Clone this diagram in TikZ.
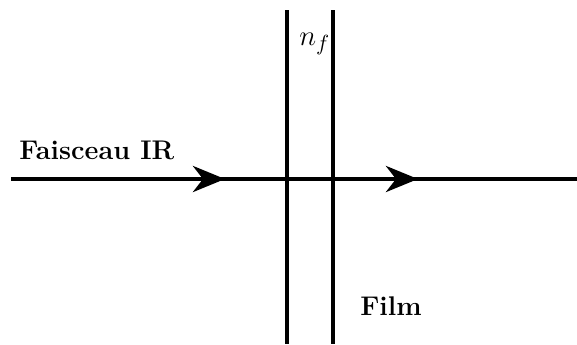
\documentclass[tikz,border=0pt]{standalone}
\usetikzlibrary{arrows.meta}
\begin{document}
\begin{tikzpicture}[x=0.5pt, y=-0.5pt,
    every node/.style={font=\fontsize{13.5}{16}\selectfont, inner sep=0pt},
    trait/.style={line width=2.3pt},
    fleche/.style={trait, -{Stealth[length=16pt, width=13pt, inset=5pt]}}]
    \useasboundingbox (0,0) rectangle (577,344);

    % Film (deux interfaces)
    \coordinate (g haut) at (287,10);
    \coordinate (g bas) at (287,344);
    \coordinate (d haut) at (333,10);
    \coordinate (d bas) at (333,344);
    \draw[trait] (g haut) -- (g bas);
    \draw[trait] (d haut) -- (d bas);
    \node[anchor=base west, font=\fontsize{15}{18}\selectfont] (indice) at (299,45) {$n_f$};
    \node[anchor=base west] (film) at (360,315) {\textbf{Film}};

    % Faisceau
    \coordinate (depart) at (11,179);
    \coordinate (arrivee) at (577,179);
    \coordinate (pointe1) at (225,179);
    \coordinate (pointe2) at (418,179);
    \draw[trait] (depart) -- (arrivee);
    \draw[fleche] ([xshift=-40]pointe1) -- (pointe1);
    \draw[fleche] ([xshift=-40]pointe2) -- (pointe2);
    \node[anchor=base west] (faisceau) at (19,159) {\textbf{Faisceau IR}};
\end{tikzpicture}
\end{document}
